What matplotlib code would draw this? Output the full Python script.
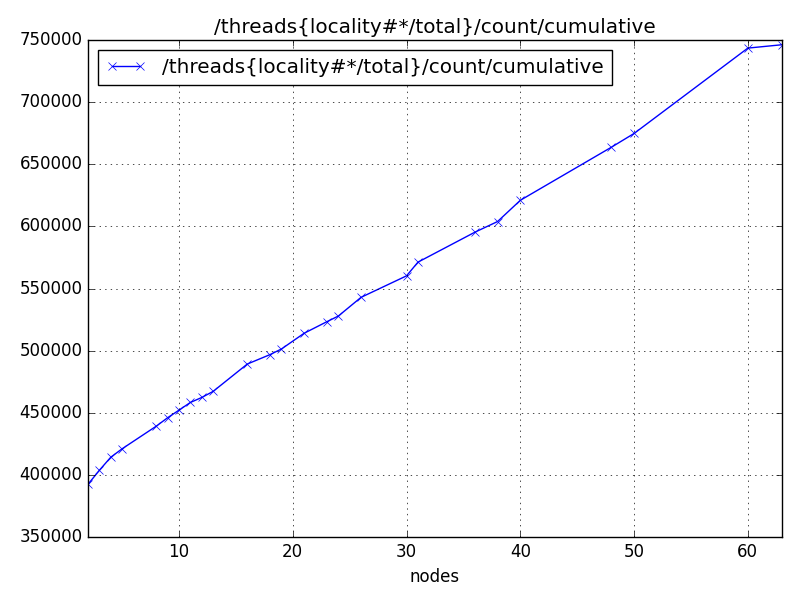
import matplotlib
matplotlib.use('Agg')
import matplotlib.pyplot as plt

plt.style.use('classic')

nodes = [2, 3, 4, 5, 8, 9, 10, 11, 12, 13, 16, 18, 19, 21, 23, 24, 26,
         30, 31, 36, 38, 40, 48, 50, 60, 63]
counts = [392400, 403700, 414200, 421000, 439200, 446000, 452100, 458300,
          462300, 467200, 489200, 496800, 501300, 514000, 523300, 527800,
          542900, 560200, 571200, 595300, 603900, 621000, 663700, 674800,
          743500, 746200]
name = '/threads{locality#*/total}/count/cumulative'

fig = plt.figure(figsize=(8, 6), dpi=100)
ax = fig.add_subplot(111)
ax.plot(nodes, counts, 'bx-', label=name)
ax.set_xlim(min(nodes), max(nodes))
ax.set_ylim(350000, 750000)
ax.set_xlabel('nodes')
ax.set_title(name)
ax.grid(True)
ax.legend(loc='upper left')
fig.subplots_adjust(left=0.11, right=0.9775, top=0.9333, bottom=0.105)
fig.savefig('out.png', dpi=100)
